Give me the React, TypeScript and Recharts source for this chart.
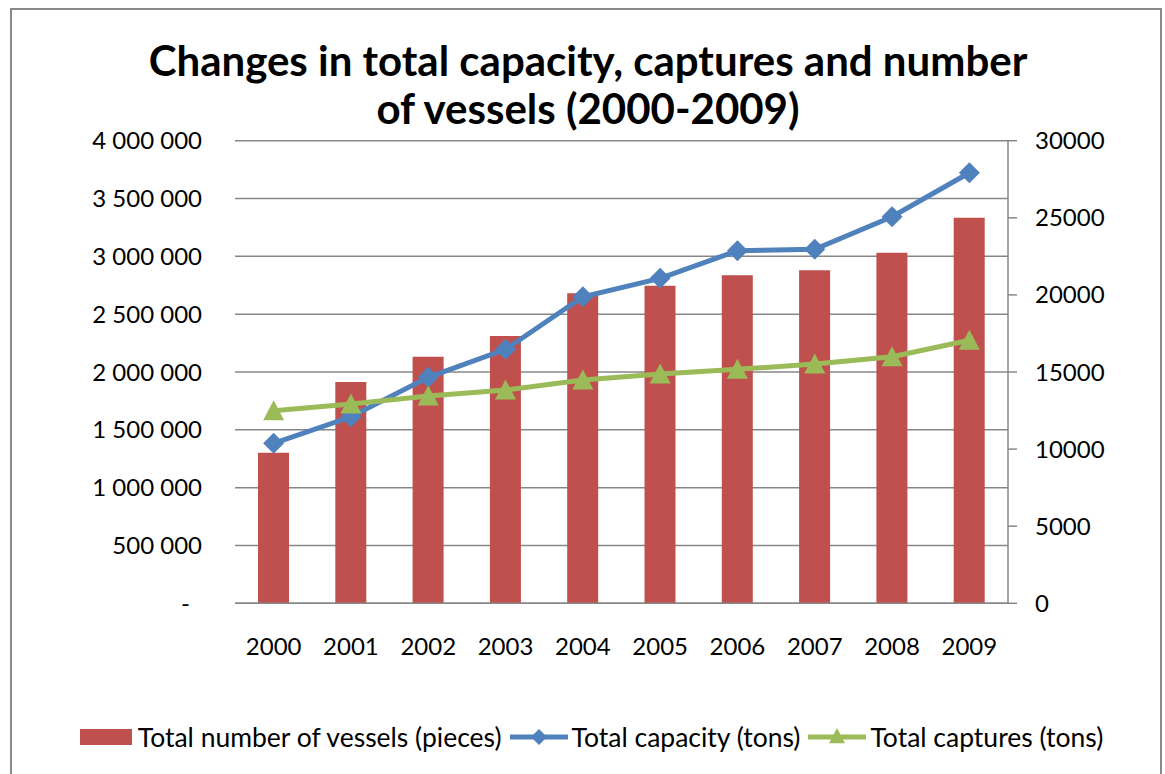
import { ComposedChart, Bar, Line, XAxis, YAxis, CartesianGrid } from "recharts";

const years = ["2000", "2001", "2002", "2003", "2004", "2005", "2006", "2007", "2008", "2009"];
const vessels = [9770, 14350, 15990, 17340, 20100, 20600, 21270, 21600, 22740, 25010];
const capacity = [1383000, 1613000, 1954000, 2196000, 2651000, 2810000, 3049000, 3061000, 3343000, 3723000];
const captures = [1665000, 1723000, 1793000, 1844000, 1931000, 1983000, 2023000, 2069000, 2132000, 2275000];

const leftTicks = [0, 500000, 1000000, 1500000, 2000000, 2500000, 3000000, 3500000, 4000000];
const rightTicks = [0, 5000, 10000, 15000, 20000, 25000, 30000];

const RED = "#C0504D";
const BLUE = "#4F81BD";
const GREEN = "#9BBB59";
const GRID = "#878787";
const FONT = "Lato, 'Open Sans', sans-serif";

const data = years.map((year, i) => ({
  year,
  vessels: vessels[i],
  capacity: capacity[i],
  captures: captures[i]
}));

const spaced = (n: number) => String(n).replace(/\B(?=(\d{3})+(?!\d))/g, " ");

const LeftTick = ({ x, y, payload }: any) => {
  const v = payload.value as number;
  return (
    <text x={v === 0 ? x - 12 : x} y={y} dy="0.355em" textAnchor="end" fontSize={24} fill="#000" fontFamily={FONT}>
      {v === 0 ? "-" : spaced(v)}
    </text>
  );
};

const Diamond = ({ cx, cy, r = 10.5, color = BLUE }: any) => {
  if (cx == null || cy == null) return null;
  return <polygon points={`${cx},${cy - r} ${cx + r},${cy} ${cx},${cy + r} ${cx - r},${cy}`} fill={color} />;
};

const Triangle = ({ cx, cy, r = 10.5, color = GREEN }: any) => {
  if (cx == null || cy == null) return null;
  return <polygon points={`${cx},${cy - r} ${cx + r},${cy + r * 0.9} ${cx - r},${cy + r * 0.9}`} fill={color} />;
};

const LegendRow = () => (
  <div
    style={{
      position: "absolute",
      top: 721,
      left: 0,
      width: 1183,
      display: "flex",
      justifyContent: "center",
      alignItems: "center",
      fontFamily: FONT,
      fontSize: 26.5,
      color: "#000",
      whiteSpace: "nowrap"
    }}
  >
    <span style={{ display: "inline-block", width: 52, height: 16, background: RED, marginRight: 6 }} />
    <span style={{ marginRight: 8 }}>Total number of vessels (pieces)</span>
    <svg width={58} height={24} style={{ marginRight: 4 }}>
      <line x1={0} y1={12} x2={58} y2={12} stroke={BLUE} strokeWidth={5} />
      <Diamond cx={29} cy={12} r={8} />
    </svg>
    <span style={{ marginRight: 8 }}>Total capacity (tons)</span>
    <svg width={58} height={24} style={{ marginRight: 4 }}>
      <line x1={0} y1={12} x2={58} y2={12} stroke={GREEN} strokeWidth={5} />
      <Triangle cx={29} cy={11} r={8} />
    </svg>
    <span>Total captures (tons)</span>
  </div>
);

export default function App() {
  return (
    <div
      style={{
        position: "absolute",
        left: 0,
        top: 0,
        width: 1165,
        height: 774,
        overflow: "hidden",
        background: "#fff",
        fontFamily: FONT
      }}
    >
      <div
        style={{
          position: "absolute",
          left: 10,
          top: 8,
          width: 1152,
          height: 820,
          border: "2px solid #8a8a8a",
          boxSizing: "border-box"
        }}
      />
      <div
        style={{
          position: "absolute",
          top: 36,
          left: 0,
          width: 1176,
          textAlign: "center",
          fontWeight: 700,
          fontSize: 42,
          lineHeight: "48px",
          color: "#000",
          whiteSpace: "nowrap"
        }}
      >
        <div>Changes in total capacity, captures and number</div>
        <div>of vessels (2000-2009)</div>
      </div>
      <div style={{ position: "absolute", left: 0, top: 0 }}>
        <ComposedChart
          width={1165}
          height={774}
          data={data}
          margin={{ top: 140.7, right: 0, left: 0, bottom: 110.7 }}
          barCategoryGap="20%"
        >
          <CartesianGrid yAxisId="left" vertical={false} stroke={GRID} strokeWidth={1.5} />
          <XAxis
            dataKey="year"
            height={60}
            axisLine={{ stroke: GRID, strokeWidth: 1.5 }}
            tickLine={false}
            tickSize={0}
            tickMargin={35}
            tick={{ fontSize: 24, fill: "#000", fontFamily: FONT }}
          />
          <YAxis
            yAxisId="left"
            orientation="left"
            width={235}
            domain={[0, 4000000]}
            ticks={leftTicks}
            interval={0}
            axisLine={false}
            tickLine={false}
            tickSize={0}
            tickMargin={33}
            tick={<LeftTick />}
          />
          <YAxis
            yAxisId="right"
            orientation="right"
            width={157}
            domain={[0, 30000]}
            ticks={rightTicks}
            interval={0}
            axisLine={{ stroke: GRID, strokeWidth: 1.5 }}
            tickLine={{ stroke: GRID, strokeWidth: 1.5 }}
            tickSize={9}
            tickMargin={18}
            tick={{ fontSize: 24, fill: "#000", fontFamily: FONT, textAnchor: "start" }}
          />
          <Bar yAxisId="right" dataKey="vessels" fill={RED} barSize={31} isAnimationActive={false} />
          <Line
            yAxisId="left"
            dataKey="capacity"
            stroke={BLUE}
            strokeWidth={5}
            dot={(p: any) => <Diamond key={p.index} cx={p.cx} cy={p.cy} />}
            activeDot={false}
            isAnimationActive={false}
          />
          <Line
            yAxisId="left"
            dataKey="captures"
            stroke={GREEN}
            strokeWidth={5}
            dot={(p: any) => <Triangle key={p.index} cx={p.cx} cy={p.cy} />}
            activeDot={false}
            isAnimationActive={false}
          />
        </ComposedChart>
      </div>
      <LegendRow />
    </div>
  );
}
